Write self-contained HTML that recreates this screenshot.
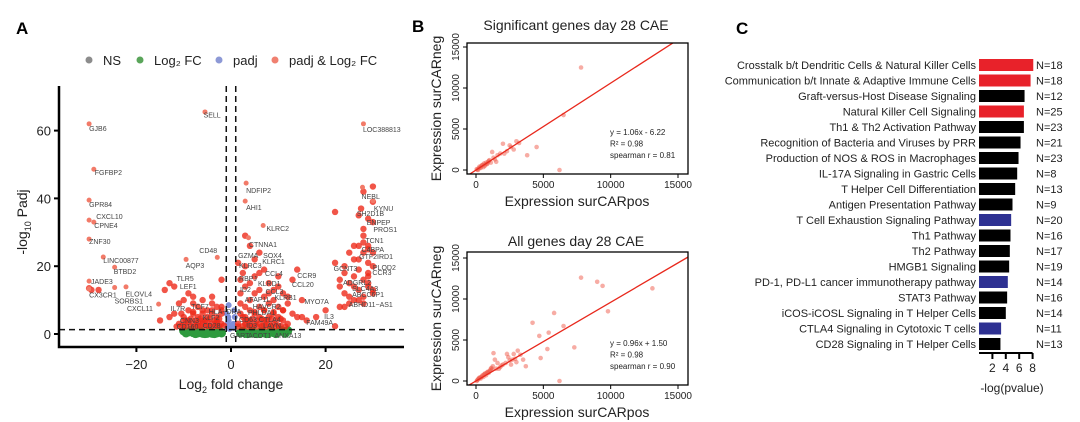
<!DOCTYPE html>
<html><head><meta charset="utf-8"><style>
body{margin:0;background:#fff;width:1080px;height:422px;overflow:hidden;font-family:"Liberation Sans",sans-serif}
svg{position:absolute;left:0;top:0}
</style></head><body>
<svg id="fig" width="1080" height="422" xmlns="http://www.w3.org/2000/svg" font-family="Liberation Sans, sans-serif"></svg>
<script>
// ---- Panel A data (volcano) ----
const genePoints=[["GJB6",-30,62],["SELL",-5.5,65.5],["FGFBP2",-29,48.6],["GPR84",-30,39.5],["CXCL10",-30,33.6],["CPNE4",-29,33],["ZNF30",-30,28],["LINC00877",-27,22.7],["BTBD2",-24.6,19.7],["JADE3",-30,15.6],["CX3CR1",-30,13.3],["SORBS1",-24.6,13.7],["ELOVL4",-22.2,13.9],["CXCL11",-15.3,8.8],["NDFIP2",3.2,44.5],["AHI1",3,39.2],["KLRC2",6.8,32],["CTNNA1",3.7,28.4],["CD48",-2.9,22.6],["AQP3",-9.5,22],["NEBL",27.8,43.3],["LOC388813",28,62],["KYNU",30,39.3]];
const labelNames=["GJB6","SELL","FGFBP2","GPR84","CXCL10","CPNE4","ZNF30","LINC00877","BTBD2","JADE3","CX3CR1","ELOVL4","SORBS1","CXCL11","NDFIP2","AHI1","KLRC2","CTNNA1","CD48","AQP3","GZMA","SOX4","KLRC3","KLRC1","GCNT3","PLOD2","CCR3","TLR5","RBPJ","CCL4","CCR9","LEF1","KLRD1","CCL20","ADGRL2","ID2","CCL3","SLC4A3","ABCC6P1","KLRB1","AFAP1L","MYO7A","ABHD11−AS1","TCF7","IL7R","HAVCR2","HLA−DRA","PHLDA1","IL3","KLF2","CD63","CTLA4","CNN3","FAM49A","CD160","CD28","ID3","LAYN","GART","ACOT1","ANXA13","NEBL","KYNU","SH2D1B","ENPEP","PROS1","TCN1","C4BPA","GTF2IRD1","LOC388813"];
const labelX=[-30,-5.8,-28.8,-30,-28.5,-28.9,-30,-27,-24.8,-29.6,-30,-22.3,-24.6,-22,3.2,3.2,7.5,3.8,-6.7,-9.6,1.5,6.8,1.7,6.6,21.7,30,29.9,-11.5,1.7,7.2,14,-10.8,5.7,12.9,23.7,1.9,7.3,25.6,25.6,9.2,2.9,15.5,24.9,-8.4,-12.8,4.6,-4.7,3.6,19.7,-6,1.7,5.9,-10.8,15.9,-11.5,-6,3.2,6.8,-0.2,3.6,9.2,27.6,30.2,26.6,28.7,30.1,28.4,27.6,27.1,27.9];
const labelY=[59.9,63.9,46.9,37.5,33.9,31.3,26.6,20.9,17.7,14.7,10.8,11.1,9,6.8,41.6,36.6,30.4,25.7,23.9,19.5,22.4,22.4,19.5,20.6,18.6,18.9,17.4,15.6,15.6,17.1,16.5,13.3,14.2,13.9,14.5,12.4,11.8,12.7,10.9,10,9.4,8.8,7.9,7.4,6.8,7.4,5.9,5.6,4.4,4.1,3.5,3.5,3.2,2.7,1.5,1.8,1.8,1.8,-1.2,-1.2,-1.2,39.8,36.3,34.8,32.2,30.1,26.8,24.2,22.1,59.6];
const sigX=[-30,-29.5,-28,-12,-13,-12,-13,-11,-10,-10,-9,-9,-8,-8,-8,-7,-7,-7,-6,-6,-6,-5,-5,-5,-4,-4,-4,-3,-3,-3,-2,-2,-2,-1.5,-9,-8,-10,-6,-4,-3,-2,-11,-9,-7,-5,-3,-11.5,-10.5,-9.5,-8.5,-7.5,-6.5,-5.5,-4.5,-3.5,-2.5,1.5,2,2,3,3,3,4,4,4,4,5,5,5,6,6,6,7,7,7,7,8,8,8,9,9,9,10,10,10,11,11,12,12,13,14,15,16,18,20,2,2.5,3,4,5,6,6,7,8,9,10,11,12,13,14,15,3,6,4,5,2,3,8,10,1.5,1.5,2.5,3.5,4.5,5.5,6.5,7.5,8.5,9.5,10.5,11.5,22,22,23,23,24,24,24,25,25,25,26,26,26,27,27,27,27,28,28,28,28,29,29,29,29,30,30,30,29,28,27,27.5,28,30,30,29,22,23,26,24,25,26,29,30,27,28,28,29,30,-14,-15,-10.5,-9.5,-8.5,-7.5,-6.5,-5.5,-4.5,-3.5,-2.5,-10,-8,-6,-4,-2,2.5,3.5,4.5,5.5,6.5,7.5,8.5,9.5,10.5,3,5,7,9,11];
const sigY=[13.5,13,13,6,5,14,15,3,5,2.5,4,7,3,6,9,2.5,5,8,3,6,4,2.5,5,7,3,6,9,2.5,5,4,3,6,8,2.5,12,11,10,10,11,8,16,9,3.5,3.5,3.8,3.2,2.2,2.4,2.2,2.3,2.2,2.4,2.2,2.3,2.2,2.3,3,6,9,3,5,8,2.5,4,7,10,3,6,12,3,5,8,2.5,4,7,11,3,5,9,3,6,10,2.5,5,8,4,7,3,9,6,5,5,4,5,7,16,18,20,26,22,24,18,19,15,13,17,12,11,16,19,10,29,13,15,17,12,14,12,14,21,2.2,2.3,2.2,2.3,2.2,2.3,2.2,2.3,2.2,2.3,2.2,2.3,21,16,14,18,20,12,9,15,11,17,22,14,10,26,19,13,16,24,27,11,15,21,18,14,33,20,12,17,29,35,37,42,43.5,39,26,36,8,10,8,24,26,25,24,22,9,31,34,13,13,4,6,4,4.5,4,4.5,4,4.5,4,4.5,4,6.5,7,7,7,5,4,4.5,4,4.5,4,4.5,4,4.5,4,6.5,7,6.5,7,6];
const fcX=[-10,-9,-8,-7,-6,-5,-4,-3,-2,2,3,4,5,6,7,8,9,10,11,12,-8.5,-6.5,-4.5,-2.5,2.5,4.5,6.5,8.5,10.5,-9.5,-7.5,-5.5,-3.5,3.5,5.5,7.5,9.5,11.5];
const fcY=[0.9,0.6,0.4,0.3,0.2,0.2,0.2,0.3,0.3,0.3,0.2,0.2,0.2,0.2,0.3,0.3,0.4,0.6,0.8,1,1.1,0.9,0.9,0.9,0.9,0.9,0.9,1.0,1.1,0.3,0.1,0.1,0.1,0.1,0.1,0.1,0.1,0.2];
const padjX=[-0.8,-0.5,-0.9,-0.5,0.5,0.8,0.7,-0.3,0.3,-0.7,0.6,-0.6];
const padjY=[2,4,6,8.5,3,5,7,1.5,2.5,3,1.8,5];
const xTicksA=[-20,0,20], yTicksA=[0,20,40,60];

// ---- Panel B data ----
const topX=[7800,6500,6200,4500,3800,3000,2800,2500,2000,1500,1800,1200,2300,3200,2600,900,700,500,300,200,100,400,600,800,1000,1100,50,150,250,350,450,550,650,750,850,950,1300,1600,2100,1400];
const topY=[12500,6700,0,2800,1800,3500,2500,3000,3200,1000,2000,2200,2300,3300,2800,1000,700,600,300,200,50,500,800,700,1200,900,100,0,400,250,600,350,500,900,800,1100,1500,1800,2000,1300];
const botX=[7800,9000,9400,9800,13100,5800,4200,6500,5400,5300,4700,7300,4800,6200,3700,3100,2800,2900,2500,2200,2000,1800,1500,1200,1000,800,600,400,200,100,300,500,700,900,1100,1300,1600,1900,2400,3300,3000,2600,3500,1400,1700,50,150,250,350,450,550,650,750,850,950,1050,1150,1250,2300,2700];
const botY=[12600,12100,11600,8500,11300,8300,7100,6700,5900,3900,5500,4100,2800,0,1800,3700,3300,2700,2500,2200,2000,1700,1500,1400,1200,1000,800,500,300,100,400,700,900,1100,1500,3400,2200,1900,2900,3200,2300,2000,2600,2600,1500,0,200,400,300,600,500,900,700,1100,1000,1300,1600,1800,3300,2600];
const xTicksB=[0,5000,10000,15000], yTicksB=[0,5000,10000,15000];

// ---- Panel C data ----
const pathways=["Crosstalk b/t Dendritic Cells & Natural Killer Cells","Communication b/t Innate & Adaptive Immune Cells","Graft-versus-Host Disease Signaling","Natural Killer Cell Signaling","Th1 & Th2 Activation Pathway","Recognition of Bacteria and Viruses by PRR","Production of NOS & ROS in Macrophages","IL-17A Signaling in Gastric Cells","T Helper Cell Differentiation","Antigen Presentation Pathway","T Cell Exhaustion Signaling Pathway","Th1 Pathway","Th2 Pathway","HMGB1 Signaling","PD-1, PD-L1 cancer immunotherapy pathway","STAT3 Pathway","iCOS-iCOSL Signaling in T Helper Cells","CTLA4 Signaling in Cytotoxic T cells","CD28 Signaling in T Helper Cells"];
const logP=[8.1,7.7,6.8,6.7,6.7,6.2,5.9,5.7,5.4,5.0,4.8,4.7,4.6,4.5,4.3,4.2,4.0,3.3,3.2];
const geneN=[18,18,12,25,23,21,23,8,13,9,20,16,17,19,14,16,14,11,13];
const barGroup=["up","up","none","up","none","none","none","none","none","none","down","none","none","none","down","none","none","down","none"];
const xTicksC=[2,4,6,8];

const NS="http://www.w3.org/2000/svg", svg=document.getElementById('fig');
function el(t,a,p){const e=document.createElementNS(NS,t);for(const k in a)e.setAttribute(k,a[k]);(p||svg).appendChild(e);return e;}
function tx(s,a,p){const e=el('text',a,p);e.textContent=s;return e;}

let e;
e=tx("A",{x:16,y:34,'font-size':17,'font-weight':'bold'});
e=tx("B",{x:412,y:32,'font-size':17,'font-weight':'bold'});
e=tx("C",{x:736,y:34,'font-size':17,'font-weight':'bold'});

// ===== Panel A =====
const gA=el('g',{});
const ax=v=>231+v*4.73, ay=v=>334-v*3.39;
const leg=[["NS","#8c8c8c",89],["Log₂ FC","#5aa55a",140],["padj","#8d99d6",219],["padj & Log₂ FC","#f08070",275]];
leg.forEach(l=>{const g=el('g',{},gA);
 el('circle',{cx:l[2],cy:60,r:3.5,fill:l[1]},g);tx(l[0],{x:l[2]+14,y:65,'font-size':13,fill:'#222'},g);});
fcX.forEach((x,i)=>{const c=el('circle',{cx:ax(x),cy:ay(fcY[i]),r:4.5,fill:'#2e9a3e'},gA);});
padjX.forEach((x,i)=>{const c=el('circle',{cx:ax(x),cy:ay(padjY[i]),r:3,fill:'#7f8fd8'},gA);});
sigX.forEach((x,i)=>{const c=el('circle',{cx:ax(x),cy:ay(sigY[i]),r:3.2,fill:'#ee2a1a',opacity:0.8},gA);});
genePoints.forEach(p=>{const c=el('circle',{cx:ax(p[1]),cy:ay(p[2]),r:2.5,fill:'#f27a68'},gA);});
labelNames.forEach((n,i)=>{const t=tx(n,{x:ax(labelX[i]),y:ay(labelY[i]),'font-size':7,fill:'#444'},gA);});
[-1,1].forEach(v=>{const l=el('line',{x1:ax(v),x2:ax(v),y1:86,y2:347,stroke:'#111','stroke-width':1.5,'stroke-dasharray':'6,4'},gA);});
e=el('line',{x1:59,x2:404,y1:ay(1.3),y2:ay(1.3),stroke:'#111','stroke-width':1.5,'stroke-dasharray':'6,4'},gA);
e=el('path',{d:'M59,86V347H404',fill:'none',stroke:'#000','stroke-width':2.5},gA);
xTicksA.forEach(v=>{el('line',{x1:ax(v),x2:ax(v),y1:347,y2:352,stroke:'#000','stroke-width':2},gA);const t=tx(v<0?'−'+(-v):v,{x:ax(v),y:369,'font-size':13,'text-anchor':'middle',fill:'#222'},gA);});
yTicksA.forEach(v=>{el('line',{x1:54,x2:59,y1:ay(v),y2:ay(v),stroke:'#000','stroke-width':2},gA);const t=tx(v,{x:51,y:ay(v)+5,'font-size':13,'text-anchor':'end',fill:'#222'},gA);});
e=tx('',{x:231,y:389,'font-size':14,'text-anchor':'middle',fill:'#222'},gA);e.innerHTML='Log<tspan font-size="9" dy="4">2</tspan><tspan dy="-4"> fold change</tspan>';
e=tx('',{x:0,y:0,'font-size':14,'text-anchor':'middle',fill:'#222',transform:'translate(27,222) rotate(-90)'},gA);e.innerHTML='-log<tspan font-size="9" dy="4">10</tspan><tspan dy="-4"> Padj</tspan>';

// ===== Panel B =====
function scatter(name,title,ty,top,bot,xs,ys,slope,icpt,eq){
 const g=el('g',{});
 const y0=bot-4, bx=v=>476+v*0.013467, by=v=>y0-v*0.0082;
 const clip=el('clipPath',{id:name+'-clip'},g);el('rect',{x:467,y:top,width:221,height:bot-top},clip);
 const gp=el('g',{'clip-path':'url(#'+name+'-clip)'},g);
 xs.forEach((x,i)=>{const c=el('circle',{cx:bx(x),cy:by(ys[i]),r:2.3,fill:'#f05a4a',opacity:0.5},gp);});
 const l=el('line',{x1:bx(-1000),y1:by(slope*-1000+icpt),x2:bx(17000),y2:by(slope*17000+icpt),stroke:'#e8281c','stroke-width':1.3},gp);
 e=el('rect',{x:467,y:top,width:221,height:bot-top,fill:'none',stroke:'#000','stroke-width':1.3},g);
 xTicksB.forEach(v=>{el('line',{x1:bx(v),x2:bx(v),y1:bot,y2:bot+4,stroke:'#000'},g);const t=tx(v,{x:bx(v),y:bot+14,'font-size':10,'text-anchor':'middle',fill:'#222'},g);});
 yTicksB.forEach(v=>{el('line',{x1:463,x2:467,y1:by(v),y2:by(v),stroke:'#000'},g);const t=tx(v,{x:0,y:0,'font-size':10,'text-anchor':'middle',fill:'#222',transform:`translate(459,${by(v)}) rotate(-90)`},g);});
 e=tx(title,{x:576,y:ty,'font-size':14,'text-anchor':'middle',fill:'#222'},g);
 e=tx('Expression surCARpos',{x:577,y:bot+32,'font-size':14,'text-anchor':'middle',fill:'#222'},g);
 e=tx('Expression surCARneg',{x:0,y:0,'font-size':14,'text-anchor':'middle',fill:'#222',transform:`translate(441,${(top+bot)/2}) rotate(-90)`},g);
 eq.forEach((s,i)=>{const t=tx(s,{x:610,y:by(0)-35+i*11.5,'font-size':8,fill:'#222'},g);});
}
scatter('scatter-significant','Significant genes day 28 CAE',30,43,174,topX,topY,1.06,-6.22,['y = 1.06x - 6.22','R² = 0.98','spearman r = 0.81']);
scatter('scatter-all','All genes day 28 CAE',246,252,385,botX,botY,0.96,1.5,['y = 0.96x + 1.50','R² = 0.98','spearman r = 0.90']);

// ===== Panel C =====
const gC=el('g',{});
const cx=v=>979+v*6.7, cy=i=>65+i*15.5;
const col={up:'#e8222a',down:'#2e3192',none:'#000'};
pathways.forEach((p,i)=>{
 const t=tx(p,{x:976,y:cy(i)+4,'font-size':11,'text-anchor':'end',fill:'#222'},gC);
 const r=el('rect',{x:cx(0),y:cy(i)-6,width:cx(logP[i])-cx(0),height:12,fill:col[barGroup[i]]},gC);
 const n=tx('N='+geneN[i],{x:1036,y:cy(i)+4,'font-size':11,fill:'#222'},gC);
});
e=el('line',{x1:cx(0),x2:cx(8),y1:353,y2:353,stroke:'#000','stroke-width':2},gC);
xTicksC.forEach(v=>{el('line',{x1:cx(v),x2:cx(v),y1:353,y2:359,stroke:'#000','stroke-width':2},gC);const t=tx(v,{x:cx(v),y:372,'font-size':12,'text-anchor':'middle',fill:'#222'},gC);});
e=tx('-log(pvalue)',{x:1012,y:392,'font-size':12,'text-anchor':'middle',fill:'#222'},gC);
</script>
</body></html>
